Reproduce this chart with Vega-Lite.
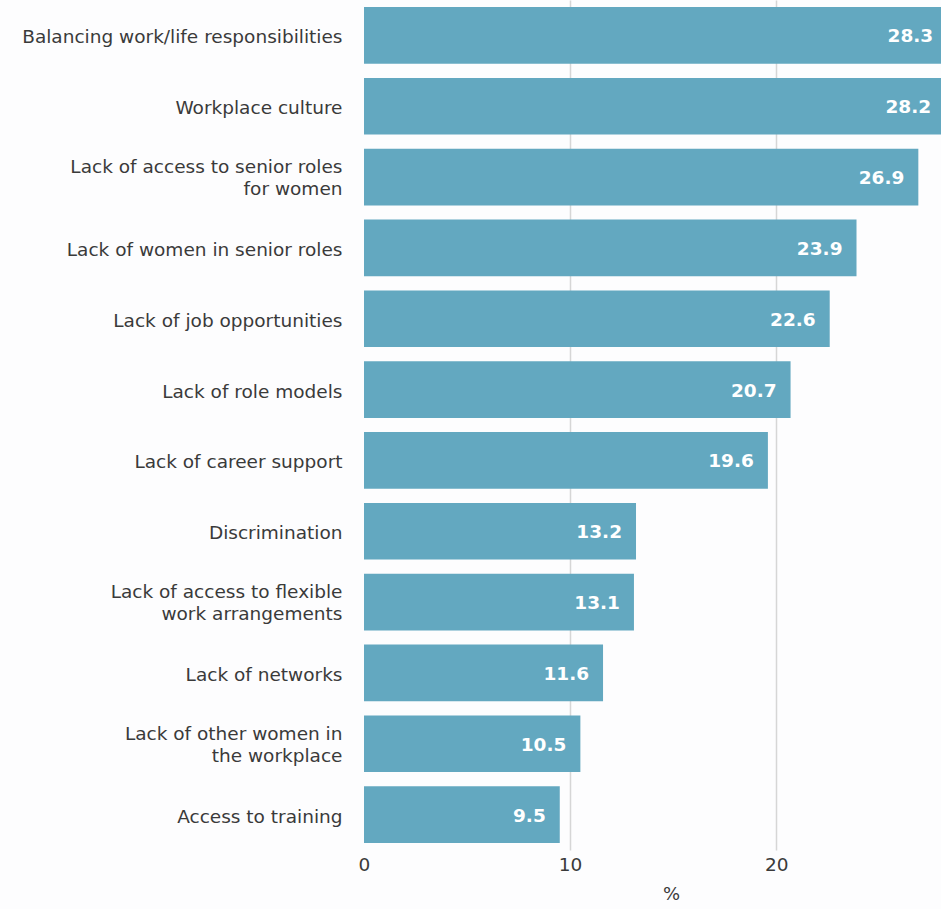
{
  "$schema": "https://vega.github.io/schema/vega-lite/v6.json",
  "autosize": {"type": "none"},
  "width": 577,
  "height": 850,
  "padding": {"left": 364, "top": 0, "right": 0, "bottom": 59},
  "background": "#fdfdfe",
  "config": {
    "view": {"stroke": null},
    "font": "DejaVu Sans",
    "axis": {"labelFont": "DejaVu Sans", "titleFont": "DejaVu Sans"}
  },
  "data": {
    "values": [
      {"reason": "Balancing work/life responsibilities", "pct": 28.3},
      {"reason": "Workplace culture", "pct": 28.2},
      {"reason": "Lack of access to senior roles|for women", "pct": 26.9},
      {"reason": "Lack of women in senior roles", "pct": 23.9},
      {"reason": "Lack of job opportunities", "pct": 22.6},
      {"reason": "Lack of role models", "pct": 20.7},
      {"reason": "Lack of career support", "pct": 19.6},
      {"reason": "Discrimination", "pct": 13.2},
      {"reason": "Lack of access to flexible|work arrangements", "pct": 13.1},
      {"reason": "Lack of networks", "pct": 11.6},
      {"reason": "Lack of other women in|the workplace", "pct": 10.5},
      {"reason": "Access to training", "pct": 9.5}
    ]
  },
  "encoding": {
    "y": {
      "field": "reason",
      "type": "nominal",
      "sort": null,
      "scale": {"paddingInner": 0.2, "paddingOuter": 0.1},
      "axis": {
        "title": null,
        "domain": false,
        "ticks": false,
        "labelPadding": 22,
        "labelFontSize": 18.5,
        "labelColor": "#3a3a3a",
        "labelLineHeight": 22,
        "labelLimit": 400,
        "labelOffset": {"condition": {"test": "indexof(datum.value, '|') >= 0", "value": -10}, "value": 2},
        "labelExpr": "split(datum.value, '|')"
      }
    },
    "x": {
      "field": "pct",
      "type": "quantitative",
      "scale": {"domain": [0, 28], "nice": false},
      "axis": {
        "title": "%",
        "values": [0, 10, 20],
        "domain": false,
        "ticks": false,
        "labelPadding": 5,
        "labelFontSize": 18.5,
        "labelColor": "#3a3a3a",
        "labelFlush": false,
        "titleFontSize": 18,
        "titleFontWeight": "normal",
        "titleColor": "#3a3a3a",
        "titlePadding": 12,
        "titleX": 307,
        "gridColor": "#d6d6d6",
        "gridWidth": 1.5,
        "gridOpacity": {"condition": {"test": "datum.value === 0", "value": 0}, "value": 1}
      }
    }
  },
  "layer": [
    {"mark": {"type": "bar", "color": "#63a8c0"}},
    {
      "mark": {
        "type": "text",
        "align": "right",
        "baseline": "middle",
        "dx": -14,
        "dy": 1,
        "color": "white",
        "fontSize": 18.5,
        "fontWeight": "bold",
        "font": "DejaVu Sans"
      },
      "encoding": {"text": {"field": "pct", "type": "quantitative", "format": ".1f"}}
    }
  ]
}
